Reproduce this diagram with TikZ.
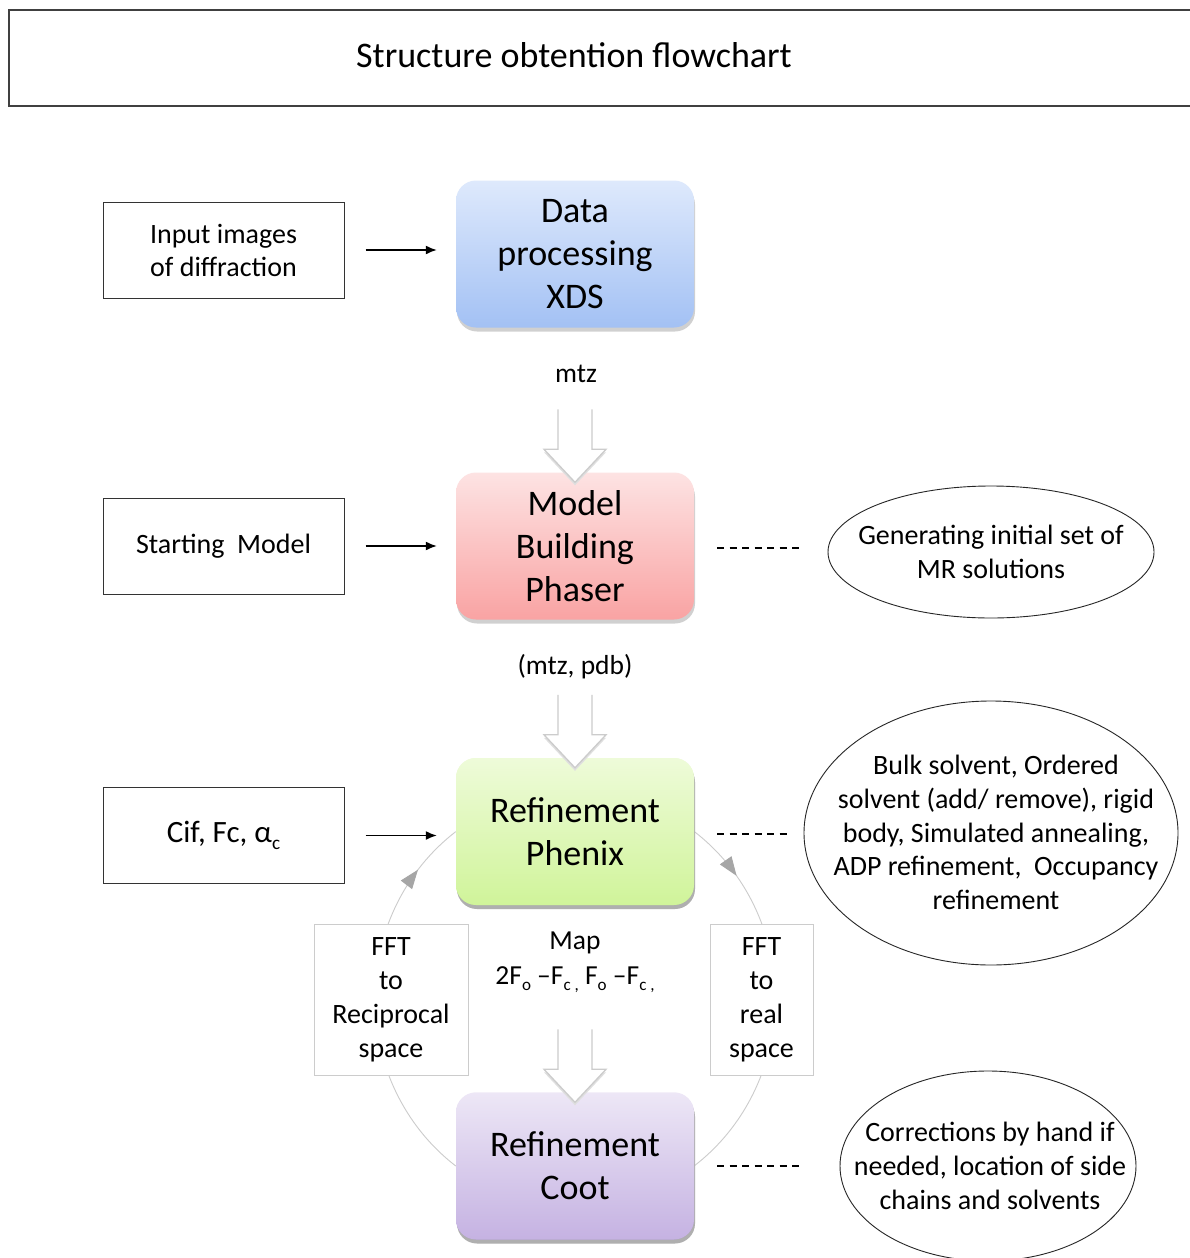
\documentclass[tikz,border=0pt]{standalone}
\usepackage{fontspec}
\usepackage{graphicx}
\setmainfont{Carlito}
\usetikzlibrary{arrows.meta,shadows,decorations.markings,calc}
\definecolor{dpTop}{HTML}{DEE9FC}\definecolor{dpBot}{HTML}{A3C1F4}
\definecolor{mbTop}{HTML}{FDE3E3}\definecolor{mbBot}{HTML}{F9A3A3}
\definecolor{phTop}{HTML}{EEFBD9}\definecolor{phBot}{HTML}{D0F49A}
\definecolor{coTop}{HTML}{EDE7F6}\definecolor{coBot}{HTML}{C5B2E2}
\newcommand\lowsub[1]{\raisebox{-0.22em}{\scalebox{0.62}{#1}}}
\newcommand\blockarrow[1]{%
  \fill[gray!25] ($(#1.north)+(-31,20)$) -- ($(#1.north)+(0,-13)$) -- ($(#1.north)+(31,20)$) -- cycle;
  \filldraw[barrow] ($(#1.north)+(-17,63)$) -- ($(#1.north)+(-17,23)$) -- ($(#1.north)+(-31,23)$) -- ($(#1.north)+(0,-10)$) -- ($(#1.north)+(31,23)$) -- ($(#1.north)+(17,23)$) -- ($(#1.north)+(17,63)$);}
\begin{document}
\begin{tikzpicture}[x=1pt,y=1pt,
  mainbox/.style={rounded corners=20pt, minimum width=238pt, minimum height=147pt, inner sep=0pt, align=center,
     font=\fontsize{36}{43}\selectfont,
     drop shadow={shadow xshift=1pt, shadow yshift=-4pt, opacity=0.3, fill=black!60}},
  sidebox/.style={draw=black!80, line width=1pt, minimum width=241pt, minimum height=96pt, inner sep=0pt, align=center,
     font=\fontsize{28}{33}\selectfont},
  fftbox/.style={draw=gray!40, fill=white, line width=1pt, minimum height=151pt, inner sep=0pt, align=center,
     font=\fontsize{28}{34}\selectfont},
  lbl/.style={inner sep=0pt, align=center, font=\fontsize{27.5}{35}\selectfont},
  elltext/.style={inner sep=0pt, align=center, font=\fontsize{28}{33.7}\selectfont},
  ellline/.style={draw=black!85, line width=0.9pt},
  sarr/.style={draw=black, line width=1.5pt, -{Latex[length=11pt,width=9pt]}},
  dsh/.style={draw=black, line width=1.3pt, dash pattern=on 7pt off 5.5pt},
  barrow/.style={fill=white, draw=gray!40, line width=1.3pt, line join=miter},
  cyc/.style={draw=gray!40, line width=0.9pt},
]
\useasboundingbox (0,0) rectangle (1189,-1258);
\fill[white] (0,0) rectangle (1189,-1258);

% title
\draw[draw=black!75, line width=1.2pt] (9,-10) rectangle (1196,-106);
\node[inner sep=0pt, font=\fontsize{36}{40}\selectfont] (title) at (574,-55) {Structure obtention flowchart};

% refinement boxes (placed first, cycle arcs between them)
\node[mainbox, top color=phTop, bottom color=phBot] (phx) at (575,-831.5) {Refinement\\Phenix};
\node[mainbox, top color=coTop, bottom color=coBot] (coot) at (575,-1166) {Refinement\\Coot};
\draw[cyc, postaction={decorate}, decoration={markings, mark=at position 0.16 with {\arrow{Triangle[length=19pt,width=14pt,color=gray!70]}}}]
  (phx.east) arc[start angle=53.5, end angle=-53.5, x radius=200, y radius=208];
\draw[cyc, postaction={decorate}, decoration={markings, mark=at position 0.86 with {\arrow{Triangle[length=19pt,width=14pt,color=gray!70]}}}]
  (coot.west) arc[start angle=233.5, end angle=126.5, x radius=200, y radius=208];
% redraw boxes on top of arcs
\node[mainbox, top color=phTop, bottom color=phBot] at (phx.center) {Refinement\\Phenix};
\node[mainbox, top color=coTop, bottom color=coBot] at (coot.center) {Refinement\\Coot};

% main boxes
\node[mainbox, top color=dpTop, bottom color=dpBot] (dp) at (575,-254) {Data\\processing\\XDS};
\node[mainbox, top color=mbTop, bottom color=mbBot] (model) at (575,-546) {Model\\Building\\Phaser};

% side boxes
\node[sidebox] (input) at (223.5,-250) {Input images\\of diffraction};
\node[sidebox] (start) at (223.5,-546) {Starting~ Model};
\node[sidebox, font=\fontsize{31}{33}\selectfont] (cif) at (223.5,-835.5) {Cif, Fc, α\lowsub{c}};

\draw[sarr, shorten <=21pt, shorten >=19pt] (input.east) -- (input.east -| dp.west);
\draw[sarr, shorten <=21pt, shorten >=19pt] (start.east) -- (start.east -| model.west);
\draw[sarr, shorten <=21pt, shorten >=19pt] (cif.east) -- (cif.east -| phx.west);

% labels
\node[lbl] (l1) at (576,-374) {mtz};
\node[lbl] (l2) at (575,-667) {(mtz, pdb)};
\node[lbl] (l3) at (575,-962) {Map\\2F\lowsub{o} –F\lowsub{c ,} F\lowsub{o} –F\lowsub{c ,}};

% block arrows
\blockarrow{model}
\blockarrow{phx}
\blockarrow{coot}

% FFT boxes
\node[fftbox, minimum width=154pt] (fftl) at (391,-999.5) {FFT\\to\\Reciprocal\\space};
\node[fftbox, minimum width=103pt] (fftr) at (761.5,-999.5) {FFT\\to\\real\\space};

% ellipses
\node[elltext, minimum width=326pt, minimum height=132pt] (g1) at (991,-552) {};
\draw[ellline] (g1.center) ellipse[x radius=163, y radius=66];
\node[elltext] at (991,-552) {Generating initial set of\\MR solutions};

\node[elltext, minimum width=374pt, minimum height=264pt] (g2) at (991,-833) {};
\draw[ellline] (g2.center) ellipse[x radius=187, y radius=132];
\node[elltext] at (996,-832.5) {Bulk solvent, Ordered\\solvent (add/ remove), rigid\\body, Simulated annealing,\\ADP refinement,~ Occupancy\\refinement};

\node[elltext, minimum width=296pt, minimum height=190pt] (g3) at (988,-1166) {};
\draw[ellline] (g3.center) ellipse[x radius=148, y radius=95];
\node[elltext] at (990,-1166) {Corrections by hand if\\needed, location of side\\chains and solvents};

% dashed links
\draw[dsh, shorten <=23pt, shorten >=26pt] (model.east |- 0,-548) -- (g1.west |- 0,-548);
\draw[dsh, shorten <=23pt, shorten >=14pt] (phx.east |- 0,-834) -- (g2.west |- 0,-834);
\draw[dsh, shorten <=23pt, shorten >=38pt] (coot.east) -- (coot.east -| g3.west);
\end{tikzpicture}
\end{document}
